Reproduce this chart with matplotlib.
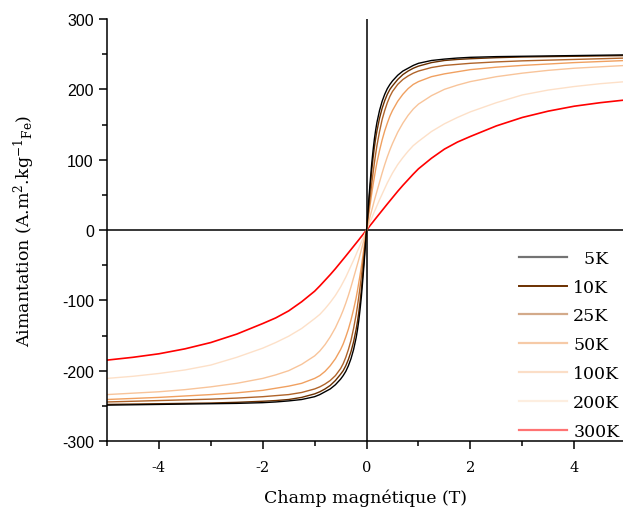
import matplotlib
matplotlib.use("Agg")
import matplotlib.pyplot as plt
from matplotlib.lines import Line2D
from matplotlib.ticker import MultipleLocator

# Field grid (T)
field = [-5, -4.5, -4, -3.5, -3, -2.5, -2, -1.75, -1.5, -1.25, -1, -0.9, -0.8, -0.7, -0.6, -0.5, -0.45, -0.4, -0.35,
         -0.3, -0.25, -0.2, -0.175, -0.15, -0.125, -0.1, -0.075, -0.05, -0.025,
         0, 0.025, 0.05, 0.075, 0.1, 0.125, 0.15, 0.175, 0.2, 0.25, 0.3, 0.35, 0.4, 0.45, 0.5, 0.6, 0.7, 0.8, 0.9, 1,
         1.25, 1.5, 1.75, 2, 2.5, 3, 3.5, 4, 4.5, 5]

m_5K = [-249, -248.5, -248, -247.5, -247, -246.5, -245.5, -244.5, -243, -241, -237, -234, -230, -226, -220, -212, -207, -201, -193,
        -183, -170, -153, -142, -129, -113, -95, -73, -50, -25,
        0, 25, 50, 73, 95, 113, 129, 142, 153, 170, 183, 193, 201, 207, 212, 220, 226, 230, 234, 237,
        241, 243, 244.5, 245.5, 246.5, 247, 247.5, 248, 248.5, 249]
m_10K = [-248, -247.5, -247, -246.5, -246, -245, -243.5, -242.5, -241, -238, -233, -230, -226, -221, -214, -205, -200, -193, -184,
         -173, -159, -141, -130, -117, -102, -85, -65, -44, -22,
         0, 22, 44, 65, 85, 102, 117, 130, 141, 159, 173, 184, 193, 200, 205, 214, 221, 226, 230, 233,
         238, 241, 242.5, 243.5, 245, 246, 246.5, 247, 247.5, 248]
m_25K = [-244.5, -243.5, -242.5, -241.5, -240.5, -239, -237, -235.5, -234, -231, -226, -223, -219, -214, -207, -197, -190, -181, -170,
         -157, -140, -120, -108, -95, -81, -66, -50, -34, -17,
         0, 17, 34, 50, 66, 81, 95, 108, 120, 140, 157, 170, 181, 190, 197, 207, 214, 219, 223, 226,
         231, 234, 235.5, 237, 239, 240.5, 241.5, 242.5, 243.5, 244.5]
m_50K = [-241, -239.5, -238, -236, -234, -231.5, -228, -225, -222, -218, -211, -207, -201, -193, -183, -170, -162, -152, -141,
         -128, -113, -96, -86, -75, -64, -52, -39, -26, -13,
         0, 13, 26, 39, 52, 64, 75, 86, 96, 113, 128, 141, 152, 162, 170, 183, 193, 201, 207, 211,
         218, 222, 225, 228, 231.5, 234, 236, 238, 239.5, 241]
m_100K = [-234, -232, -230, -227, -223, -218, -211, -206, -200, -191, -179, -172, -163, -152, -139, -123, -114, -104, -93,
          -81, -68, -55, -48.5, -42, -35, -28, -21, -14, -7,
          0, 7, 14, 21, 28, 35, 42, 48.5, 55, 68, 81, 93, 104, 114, 123, 139, 152, 163, 172, 179,
          191, 200, 206, 211, 218, 223, 227, 230, 232, 234]
m_200K = [-211, -208, -204, -199, -192, -181, -168, -160, -151, -140, -126, -120, -112, -103, -93, -81, -74, -67, -59,
          -51, -43, -34.5, -30, -26, -21.5, -17, -13, -8.6, -4.3,
          0, 4.3, 8.6, 13, 17, 21.5, 26, 30, 34.5, 43, 51, 59, 67, 74, 81, 93, 103, 112, 120, 126,
          140, 151, 160, 168, 181, 192, 199, 204, 208, 211]
m_300K = [-185, -181, -176, -169, -160, -148, -133, -125, -115, -102, -87, -79.5, -71.5, -63.5, -55, -46, -41.5, -37, -32.4,
          -27.8, -23.2, -18.6, -16.3, -14, -11.6, -9.3, -7, -4.6, -2.3,
          0, 2.3, 4.6, 7, 9.3, 11.6, 14, 16.3, 18.6, 23.2, 27.8, 32.4, 37, 41.5, 46, 55, 63.5, 71.5, 79.5, 87,
          102, 115, 125, 133, 148, 160, 169, 176, 181, 185]

labels = ["  5K", "10K", "25K", "50K", "100K", "200K", "300K"]
series = [m_5K, m_10K, m_25K, m_50K, m_100K, m_200K, m_300K]
colors = ["#000000", "#6b3000", "#b0642a", "#f0a060", "#f8c49a", "#fde0c8", "#ff0000"]
widths = [1.0, 1.0, 1.0, 1.0, 1.0, 1.0, 1.2]

x_ticks = [-4, -2, 0, 2, 4]
y_ticks = [-300, -200, -100, 0, 100, 200, 300]

plt.rcParams["mathtext.fontset"] = "dejavuserif"

fig = plt.figure(figsize=(6.23, 5.10), dpi=100)
ax = fig.add_axes([107 / 623, 1 - 442 / 510, 1 - 107 / 623, (442 - 20) / 510])

ax.axhline(0, color="black", lw=1.1, zorder=1)
ax.axvline(0, color="black", lw=1.1, zorder=1)

for ys, c, lw in zip(series[::-1], colors[::-1], widths[::-1]):
    ax.plot(field, ys, color=c, lw=lw, zorder=2)

ax.set_xlim(-5, 4.94)
ax.set_ylim(-300, 300)
ax.spines["top"].set_visible(False)
ax.spines["right"].set_visible(False)
ax.spines["left"].set_linewidth(1.1)
ax.spines["bottom"].set_linewidth(1.1)

ax.set_xticks(x_ticks)
ax.set_xticklabels([str(v) for v in x_ticks], family="DejaVu Serif", fontsize=10.5)
ax.xaxis.set_minor_locator(MultipleLocator(1))
ax.set_yticks(y_ticks)
ax.set_yticklabels([str(v) for v in y_ticks], family="Liberation Sans", fontsize=11.5)
ax.yaxis.set_minor_locator(MultipleLocator(50))
ax.tick_params(which="major", direction="out", length=6, width=1.1)
ax.tick_params(which="minor", direction="out", length=3.5, width=1.1)
ax.tick_params(axis="x", pad=8)

ax.set_xlabel("Champ magnétique (T)", family="DejaVu Serif", fontsize=12.5, labelpad=10)
ax.set_ylabel(r"Aimantation (A.m$^{2}$.kg$^{-1}$$_{\rm Fe}$)", family="DejaVu Serif", fontsize=12.5, labelpad=18)

handles = [Line2D([], [], color=c, lw=1.6, alpha=0.55) for c in colors]
handles[1] = Line2D([], [], color=colors[1], lw=1.4)
leg = ax.legend(handles, labels, loc="lower right", bbox_to_anchor=(1.0, -0.005),
                frameon=False, prop={"family": "DejaVu Serif", "size": 12.5},
                handlelength=2.8, handletextpad=0.35, labelspacing=0.68, borderaxespad=0.0,
                borderpad=0.2)

fig.savefig("out.png", dpi=100)
